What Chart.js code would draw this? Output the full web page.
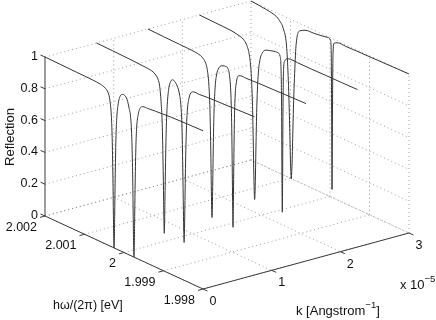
<!DOCTYPE html>
<html>
<head>
<meta charset="utf-8">
<style>html,body{margin:0;padding:0;background:#fff}canvas{display:block}</style>
<script src="https://cdn.jsdelivr.net/npm/chart.js@4"></script>
</head>
<body>
<canvas id="c" width="436" height="320"></canvas>
<script>
const kTicks = [0, 1, 2, 3];
const energyTicks = [2.002, 2.001, 2, 1.999, 1.998];
const energyTickLabels = ['2.002', '2.001', '2', '1.999', '1.998'];
const reflectionTicks = [0, 0.2, 0.4, 0.6, 0.8, 1];
const reflectionTickLabels = ['0', '0.2', '0.4', '0.6', '0.8', '1'];

// wavevector of each sweep, in units of 1e-5 / Angstrom
const sweepK = [0, 0.75, 1.5, 2.25, 3];

const energy0 = [2.002,2.0016,2.0012,2.0008,2.0006,2.00048,2.0004,2.00036,2.00032,2.0003,2.00028,2.000268,2.00026,2.000252,2.000244,2.000236,2.000224,2.000204,2.000184,2.000152,2.0001,2.00004,1.99998,1.99992,1.999868,1.999832,1.999804,1.999784,1.999772,1.999764,1.999756,1.999748,1.99974,1.999732,1.99972,1.9997,1.99968,1.99964,1.99958,1.99952,1.9994,1.9992,1.9988,1.9984,1.998];
const reflection0 = [1,.998,.996,.994,.99,.98,.958,.92,.82,.69,.43,.2,.06,0,.06,.2,.43,.69,.82,.91,.97,.99,.99,.97,.92,.87,.75,.56,.36,.2,.06,0,.06,.2,.43,.69,.82,.91,.96,.972,.975,.98,.988,.992,.995];

const energy1 = [2.002,2.0016,2.0012,2.0008,2.0006,2.00052,2.00044,2.0004,2.00036,2.000336,2.000316,2.0003,2.000292,2.000284,2.000276,2.000268,2.000252,2.000232,2.000208,2.000172,2.00012,2.000072,2.00002,1.99996,1.9999,1.99986,1.999836,1.999816,1.9998,1.99979,1.999782,1.999774,1.999764,1.999748,1.999724,1.9997,1.99966,1.9996,1.999548,1.9994,1.9992,1.9988,1.9984,1.998];
const reflection1 = [1,.998,.995,.99,.985,.975,.95,.91,.80,.68,.45,.2,.06,0,.06,.2,.45,.68,.82,.92,.975,.99,.985,.965,.92,.84,.72,.47,.2,.06,0,.06,.2,.47,.72,.84,.92,.965,.974,.975,.98,.985,.99,.995];

const energy2 = [2.002,2.0016,2.0012,2.001,2.0008,2.00068,2.0006,2.00054,2.0005,2.00046,2.000432,2.000412,2.000396,2.000388,2.00038,2.000372,2.000364,2.000348,2.000328,2.0003,2.00026,2.00022,2.00016,2.0001,2.00004,1.99998,1.99994,1.9999,1.99988,1.999864,1.999856,1.999848,1.99984,1.999832,1.999816,1.999796,1.99976,1.9997,1.999652,1.99952,1.9992,1.9988,1.9984,1.998];
const reflection2 = [1,.997,.995,.994,.992,.986,.974,.952,.917,.83,.676,.44,.165,.05,0,.05,.165,.44,.676,.83,.917,.952,.978,.987,.99,.985,.95,.82,.62,.3,.12,0,.12,.3,.62,.82,.925,.97,.975,.975,.98,.983,.987,.99];

const energy3 = [2.002,2.0016,2.0012,2.001,2.000892,2.0008,2.00074,2.000696,2.00066,2.00064,2.000624,2.000612,2.000604,2.000596,2.000584,2.000568,2.000548,2.000512,2.000468,2.000408,2.00032,2.0002,2.00008,2,1.99996,1.999936,1.99992,1.999912,1.999904,1.999896,1.999888,1.999872,1.99984,1.99978,1.999694,1.99952,1.9992,1.9988,1.9984,1.998];
const reflection3 = [1,.997,.994,.985,.975,.945,.895,.8,.6,.37,.15,.03,0,.03,.15,.37,.6,.8,.895,.945,.972,.982,.99,.99,.975,.9,.6,.2,0,.2,.6,.9,.96,.98,.986,.985,.985,.987,.988,.99];

const energy4 = [2.002,2.0016,2.00135,2.00128,2.001182,2.0011,2.00106,2.00104,2.00102,2.001,2.000988,2.00098,2.000972,2.00096,2.00094,2.00092,2.0009,2.00086,2.00076,2.000632,2.0004,2.0002,2.00004,1.999988,1.999968,1.99996,1.999952,1.999948,1.999944,1.999936,1.999924,1.9999,1.999816,1.9996,1.9992,1.9988,1.9984,1.998];
const reflection4 = [1,.99,.975,.96,.92,.82,.64,.5,.31,.1,.03,0,.03,.1,.31,.5,.64,.85,.955,.973,.98,.987,.995,.985,.9,.6,.2,.05,.2,.6,.9,.975,.988,.99,.993,.995,.998,1];

const sweepEnergies = [energy0, energy1, energy2, energy3, energy4];
const sweepReflections = [reflection0, reflection1, reflection2, reflection3, reflection4];

// Orthographic view of the box: screen units moved per axis span
const FONT = '"Liberation Sans", Arial, sans-serif';
const TICK_SIZE = 12.5;
const TITLE_SIZE = 13;
const kMax = 3, eHigh = 2.002, eLow = 1.998;
const view = { x0: 45, y0: 216, kDx: 206, kDy: -56, eDx: 158, eDy: 73, rDy: -159 };

function project(k, e, r) {
  const a = k / kMax, b = (eHigh - e) / (eHigh - eLow);
  return { x: view.x0 + a * view.kDx + b * view.eDx,
           y: view.y0 + a * view.kDy + b * view.eDy + r * view.rDy };
}
function tick(p, dx, dy) { return [p, { x: p.x + dx, y: p.y + dy }]; }

const GRID = { borderColor: '#858585', borderWidth: 0.8, borderDash: [1, 3] };
const AXIS = { borderColor: '#3a3a3a', borderWidth: 1, borderDash: [] };
const CURVE = { borderColor: '#333333', borderWidth: 1, borderDash: [], cubicInterpolationMode: 'monotone' };

function seg(data, style, order) {
  return Object.assign({ data, showLine: true, pointRadius: 0, tension: 0, clip: false, order, parsing: false }, style);
}

const datasets = [];
// grid: floor
kTicks.forEach(k => datasets.push(seg([project(k, eHigh, 0), project(k, eLow, 0)], GRID, 3)));
energyTicks.forEach(e => datasets.push(seg([project(0, e, 0), project(kMax, e, 0)], GRID, 3)));
// grid: back walls
reflectionTicks.forEach(r => {
  datasets.push(seg([project(0, eHigh, r), project(kMax, eHigh, r), project(kMax, eLow, r)], GRID, 3));
});
kTicks.slice(1).forEach(k => datasets.push(seg([project(k, eHigh, 0), project(k, eHigh, 1)], GRID, 3)));
energyTicks.slice(1).forEach(e => datasets.push(seg([project(kMax, e, 0), project(kMax, e, 1)], GRID, 3)));
// axes
datasets.push(seg([project(0, eHigh, 0), project(0, eHigh, 1)], AXIS, 2));
datasets.push(seg([project(0, eHigh, 0), project(0, eLow, 0)], AXIS, 2));
datasets.push(seg([project(0, eLow, 0), project(kMax, eLow, 0)], AXIS, 2));
reflectionTicks.forEach(r => datasets.push(seg(tick(project(0, eHigh, r), -4.5, -2), AXIS, 2)));
energyTicks.forEach(e => datasets.push(seg(tick(project(0, e, 0), -5, 1.4), AXIS, 2)));
kTicks.forEach(k => datasets.push(seg(tick(project(k, eLow, 0), 4.5, 2), AXIS, 2)));
// reflection sweeps
sweepK.forEach((k, i) => {
  const pts = sweepEnergies[i].map((e, j) => project(k, e, sweepReflections[i][j]));
  datasets.push(seg(pts, CURVE, 1));
});

const textPlugin = {
  id: 'axisText',
  afterDatasetsDraw(chart) {
    const { ctx, scales: { x, y } } = chart;
    const px = p => ({ x: x.getPixelForValue(p.x), y: y.getPixelForValue(p.y) });
    ctx.save();
    ctx.fillStyle = '#111';
    ctx.textBaseline = 'middle';
    ctx.font = TICK_SIZE + 'px ' + FONT;

    ctx.textAlign = 'right';
    reflectionTicks.forEach((r, i) => {
      const p = px(project(0, eHigh, r));
      ctx.fillText(reflectionTickLabels[i], p.x - 7, p.y - 0.5);
    });
    energyTicks.forEach((e, i) => {
      const p = px(project(0, e, 0));
      ctx.fillText(energyTickLabels[i], p.x - 8, p.y + 11.5);
    });
    ctx.textAlign = 'center';
    kTicks.forEach(k => {
      const p = px(project(k, eLow, 0));
      ctx.fillText(String(k), p.x + 10, p.y + 12.5);
    });

    ctx.textAlign = 'left';
    ctx.font = TICK_SIZE + 'px ' + FONT;
    ctx.fillText('h\u03C9/(2\u03C0) [eV]', 53, 306);

    function runs(parts, startX, baseY) {
      let cx = startX;
      parts.forEach(([t, sup]) => {
        ctx.font = (sup ? 9.5 : TITLE_SIZE) + 'px ' + FONT;
        ctx.fillText(t, cx, baseY - (sup ? 6 : 0));
        cx += ctx.measureText(t).width;
      });
    }
    runs([['k [Angstrom', false], ['\u22121', true], [']', false]], 296, 311);
    runs([['x 10', false], ['\u22125', true]], 400, 285);

    ctx.font = TITLE_SIZE + 'px ' + FONT;
    ctx.textAlign = 'center';
    ctx.translate(10, 137);
    ctx.rotate(-Math.PI / 2);
    ctx.fillText('Reflection', 0, 0);
    ctx.restore();
  }
};

new Chart(document.getElementById('c'), {
  type: 'scatter',
  data: { datasets },
  plugins: [textPlugin],
  options: {
    responsive: false,
    animation: false,
    events: [],
    layout: { padding: 0 },
    plugins: { legend: { display: false }, tooltip: { enabled: false }, title: { display: false } },
    scales: {
      x: { type: 'linear', min: 0, max: 436, display: false },
      y: { type: 'linear', min: 0, max: 320, reverse: true, display: false }
    }
  }
});
</script>
</body>
</html>
